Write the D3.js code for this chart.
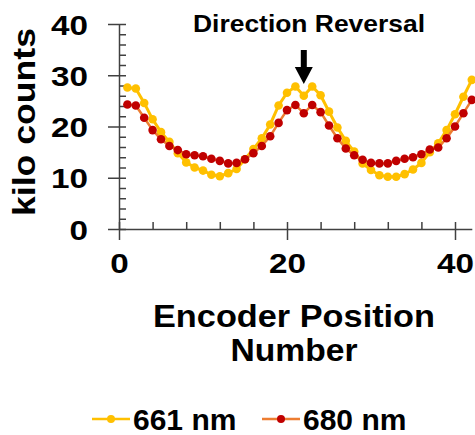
<!DOCTYPE html>
<html>
<head>
<meta charset="utf-8">
<script src="https://cdn.jsdelivr.net/npm/d3@7"></script>
<style>
	body { margin: 0; background: #fff; }
	text { font-family: "Liberation Sans", Arial, sans-serif; font-weight: bold; fill: #000; }
	.axis path, .axis line { stroke: #404040; stroke-width: 1.5; }
</style>
</head>
<body>
<svg id="chart" width="475" height="435"></svg>
<script>
// encoder positions and counts (kilo counts)
const positions = [1, 2, 3, 4, 5, 6, 7, 8, 9, 10, 11, 12, 13, 14, 15, 16, 17, 18, 19, 20, 21,
	22, 23, 24, 25, 26, 27, 28, 29, 30, 31, 32, 33, 34, 35, 36, 37, 38, 39, 40, 41, 42];
const counts_661 = [27.6, 27.4, 24.6, 21.4, 18.9, 17.0, 14.8, 13.0, 12.0, 11.4, 10.6, 10.3, 10.9, 11.7,
	13.6, 15.6, 17.7, 20.4, 24.1, 26.6, 27.8, 26.0, 27.8, 26.1, 22.9, 19.8, 17.2, 15.1,
	12.8, 11.5, 10.5, 10.2, 10.2, 10.7, 11.6, 12.9, 15.0, 16.7, 19.3, 22.4, 25.8, 29.1];
const counts_680 = [24.3, 24.1, 21.7, 19.3, 17.5, 16.2, 15.4, 14.6, 14.4, 14.2, 13.7, 13.3, 12.8, 12.9,
	13.6, 14.8, 16.2, 18.1, 20.7, 23.2, 24.2, 22.6, 24.2, 22.8, 20.2, 17.7, 15.7, 14.4,
	13.5, 12.9, 12.8, 12.8, 13.3, 13.7, 14.0, 14.6, 15.5, 15.9, 17.7, 20.0, 22.6, 25.2];
const series_names = ["661 nm", "680 nm"];
const x_major_ticks = [0, 20, 40];
const x_minor_ticks = [4, 8, 12, 16, 24, 28, 32, 36];
const y_major_ticks = [0, 10, 20, 30, 40];
const y_minor_ticks = [2, 4, 6, 8, 12, 14, 16, 18, 22, 24, 26, 28, 32, 34, 36, 38];
const reversal_position = 22;

const svg = d3.select("#chart");

const scaleX = d3.scaleLinear().domain([0, 42]).range([119, 471.8]);
const scaleY = d3.scaleLinear().domain([0, 40]).range([229, 24]);

// the labels in the figure are drawn wider than plain Arial bold
const stretchTicks = sel => sel.selectAll(".tick text")
	.style("font-size", "28px")
	.attr("lengthAdjust", "spacingAndGlyphs")
	.attr("textLength", function() { return this.textContent.length * 18.5; });

// y axis: major ticks cross the line, minor ones point inward
const yAxis = svg.append("g").attr("class", "axis")
	.attr("transform", "translate(119,0)")
	.call(d3.axisLeft(scaleY).tickValues(y_major_ticks).tickSize(11).tickSizeOuter(0).tickPadding(20));
yAxis.selectAll(".tick").append("line").attr("x2", 7);
yAxis.call(stretchTicks);
yAxis.selectAll(".tick text").attr("dy", "0.36em");
svg.append("g").attr("class", "axis")
	.attr("transform", "translate(119,0)")
	.call(d3.axisRight(scaleY).tickValues(y_minor_ticks).tickSize(7).tickFormat(""))
	.select(".domain").remove();

// x axis
const xAxis = svg.append("g").attr("class", "axis")
	.attr("transform", "translate(0,229)")
	.call(d3.axisBottom(scaleX).tickValues(x_major_ticks).tickSize(11).tickSizeOuter(0).tickPadding(20));
xAxis.selectAll(".tick").append("line").attr("y2", -7);
xAxis.call(stretchTicks);
xAxis.selectAll(".tick text").attr("dy", "0.45em");
svg.append("g").attr("class", "axis")
	.attr("transform", "translate(0,229)")
	.call(d3.axisTop(scaleX).tickValues(x_minor_ticks).tickSize(7).tickFormat(""))
	.select(".domain").remove();

// axis titles
svg.append("text")
	.attr("transform", "translate(35,122) rotate(-90)")
	.attr("text-anchor", "middle")
	.attr("textLength", 188).attr("lengthAdjust", "spacingAndGlyphs")
	.style("font-size", "31px")
	.text("kilo counts");
svg.append("text")
	.attr("x", 294).attr("y", 327)
	.attr("text-anchor", "middle")
	.attr("textLength", 282).attr("lengthAdjust", "spacingAndGlyphs")
	.style("font-size", "32px")
	.text("Encoder Position");
svg.append("text")
	.attr("x", 294).attr("y", 361)
	.attr("text-anchor", "middle")
	.attr("textLength", 127).attr("lengthAdjust", "spacingAndGlyphs")
	.style("font-size", "32px")
	.text("Number");

// series
const series = [
	{ name: series_names[0], values: counts_661, line: "#FFC000", dot: "#FFC000", width: 3 },
	{ name: series_names[1], values: counts_680, line: "#ED7D31", dot: "#C00000", width: 2.5 }
];

const line_generator = d3.line()
	.x((d, i) => scaleX(positions[i]))
	.y(d => scaleY(d));

series.forEach(s => {
	const g = svg.append("g");
	g.append("path")
		.attr("d", line_generator(s.values))
		.attr("fill", "none")
		.attr("stroke", s.line)
		.attr("stroke-width", s.width);
	g.selectAll("circle")
		.data(s.values)
		.enter()
		.append("circle")
		.attr("cx", (d, i) => scaleX(positions[i]))
		.attr("cy", d => scaleY(d))
		.attr("r", 4.3)
		.attr("fill", s.dot);
});

// annotation
const arrow_x = scaleX(reversal_position);
svg.append("text")
	.attr("x", 309).attr("y", 32)
	.attr("text-anchor", "middle")
	.attr("textLength", 232).attr("lengthAdjust", "spacingAndGlyphs")
	.style("font-size", "24px")
	.text("Direction Reversal");
svg.append("line")
	.attr("x1", arrow_x).attr("x2", arrow_x)
	.attr("y1", 50).attr("y2", 68)
	.attr("stroke", "#000").attr("stroke-width", 6);
svg.append("path")
	.attr("d", `M${arrow_x - 9},67 L${arrow_x + 9},67 L${arrow_x},84 Z`)
	.attr("fill", "#000");

// legend
const legend = svg.append("g");
const legend_x = [92, 262];
series.forEach((s, i) => {
	const g = legend.append("g").attr("transform", `translate(${legend_x[i]},419)`);
	g.append("line").attr("x1", 0).attr("x2", 38)
		.attr("stroke", s.line).attr("stroke-width", 2.5);
	g.append("circle").attr("cx", 19).attr("r", 4).attr("fill", s.dot);
	g.append("text").attr("x", 41).attr("y", 11)
		.style("font-size", "30px")
		.text(s.name);
});
</script>
</body>
</html>
